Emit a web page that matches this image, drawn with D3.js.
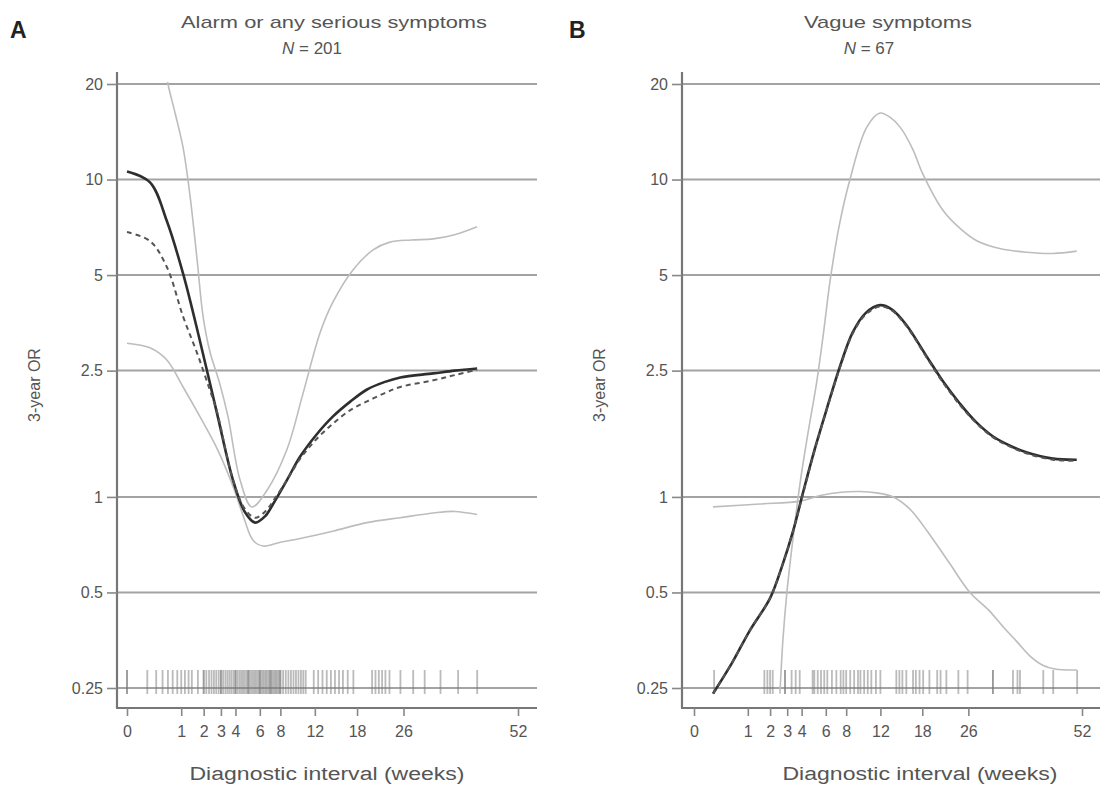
<!DOCTYPE html>
<html>
<head>
<meta charset="utf-8">
<script src="https://cdn.jsdelivr.net/npm/d3@7"></script>
<style>
  body { margin: 0; background: #fff; }
  svg { display: block; font-family: "Liberation Sans", Arial, sans-serif; }
</style>
</head>
<body>
<div id="chart"></div>
<script>
// x ticks (weeks, square-root axis) and y ticks (odds ratio, log axis)
const xTicks = [0, 1, 2, 3, 4, 6, 8, 12, 18, 26, 52];
const yTicks = [0.25, 0.5, 1, 2.5, 5, 10, 20];
const yTickLabels = ["0.25", "0.5", "1", "2.5", "5", "10", "20"];

// Panel A: alarm or any serious symptoms
const aWeeks    = [0, 0.18, 0.54, 1.07, 1.81, 2.76, 3.82, 4.7, 5.58, 6.5, 7.26, 8.7, 10.2, 12.2, 14.4, 17, 19.6, 22.5, 25.4, 31.9, 36.5, 41.7];
const aEstimate = [10.6, 9.8, 7.4, 5.05, 3.1, 1.83, 1.13, 0.9, 0.83, 0.87, 0.95, 1.13, 1.34, 1.57, 1.79, 2.0, 2.18, 2.3, 2.38, 2.45, 2.5, 2.54];
const aAdjWeeks = [0, 0.18, 0.54, 1.07, 1.67, 2.3, 2.76, 3.82, 4.7, 5.58, 6.5, 7.26, 8.7, 10.2, 12.2, 14.4, 17, 19.6, 22.5, 25.4, 31.9, 36.5, 41.7];
const aAdjusted = [6.83, 6.4, 5.3, 3.7, 2.84, 2.2, 1.85, 1.13, 0.92, 0.86, 0.9, 0.97, 1.13, 1.32, 1.52, 1.7, 1.88, 2.0, 2.12, 2.22, 2.33, 2.42, 2.52];
const aUpWeeks  = [0.45, 0.57, 0.8, 1.07, 1.35, 1.67, 1.97, 2.35, 2.9, 3.47, 4.35, 5.3, 6.67, 8.7, 10.5, 12.7, 14.4, 17.4, 20.6, 23.5, 27.5, 31.9, 36.5, 41.7];
const aUpper    = [24, 20, 16, 12.6, 8.9, 5.6, 3.7, 2.85, 2.3, 1.79, 1.13, 0.93, 1.05, 1.41, 2.1, 3.3, 4.1, 5.2, 6.0, 6.35, 6.45, 6.5, 6.7, 7.1];
const aLoWeeks  = [0, 0.18, 0.54, 1.07, 1.81, 2.76, 3.82, 4.6, 5.4, 6.3, 8, 10.2, 14.4, 19.6, 25.4, 31.9, 36.5, 41.7];
const aLower    = [3.05, 2.95, 2.7, 2.22, 1.79, 1.42, 1.08, 0.87, 0.73, 0.70, 0.72, 0.74, 0.78, 0.83, 0.86, 0.89, 0.9, 0.88];
const aRug = [0, 0, 0.14, 0.29, 0.43, 0.57, 0.71, 0.86, 1, 1.14, 1.29, 1.43, 1.71, 2, 2, 2.14, 2.29, 2.43, 2.57, 2.71,
  2.86, 3, 3, 3.14, 3.29, 3.43, 3.57, 3.71, 3.86, 4, 4, 4.14, 4.29, 4.43, 4.57, 4.71, 4.86, 5, 5, 5.14, 5.29,
  5.43, 5.57, 5.71, 5.86, 6, 6, 6.14, 6.29, 6.43, 6.57, 6.71, 6.86, 7, 7, 7.14, 7.29, 7.43, 7.57, 7.71, 7.86,
  8, 8, 8.29, 8.57, 8.86, 9.14, 9.43, 9.71, 10, 10.29, 10.57, 10.86, 11.86, 12.43, 13, 13.57, 14.14, 14.71,
  15.29, 15.86, 16.57, 17.43, 20.43, 21, 21.57, 22.14, 22.71, 23.43, 25.43, 27.86, 30.14, 33.43, 37.29, 41.71];

// Panel B: vague symptoms
const bWeeks    = [0.125, 0.5, 1.08, 2.0, 2.7, 3.39, 4.1, 5.0, 6.1, 7.4, 8.7, 10.2, 11.95, 13.5, 15.5, 18.8, 21.5, 24.4, 27.5, 30.9, 34.5, 38.3, 44.5, 50.6];
const bEstimate = [0.24, 0.3, 0.38, 0.48, 0.61, 0.78, 1.03, 1.4, 1.9, 2.6, 3.3, 3.8, 4.02, 3.9, 3.5, 2.75, 2.3, 1.97, 1.72, 1.55, 1.45, 1.38, 1.32, 1.31];
const bAdjusted = [0.24, 0.3, 0.38, 0.48, 0.61, 0.78, 1.02, 1.39, 1.89, 2.58, 3.27, 3.76, 3.98, 3.87, 3.47, 2.73, 2.28, 1.95, 1.71, 1.54, 1.44, 1.37, 1.31, 1.3];
const bUpWeeks  = [2.55, 2.74, 2.98, 3.4, 3.88, 4.5, 5.2, 5.8, 6.4, 7.3, 8.4, 10.3, 11.95, 13.3, 14.7, 16.5, 18.1, 21.4, 24.5, 27.7, 32.5, 38.3, 44.5, 50.6];
const bUpper    = [0.24, 0.36, 0.5, 0.75, 1.1, 1.6, 2.3, 3.3, 4.8, 7.2, 10, 14.6, 16.2, 15.7, 14.6, 12.5, 10.4, 8.0, 7.0, 6.4, 6.05, 5.9, 5.85, 5.95];
const bLoWeeks  = [0.125, 1.5, 3.88, 5.5, 7.5, 9.5, 11.5, 13.7, 16, 18.8, 22.5, 26.3, 30, 33, 36, 39, 42, 45, 50.6];
const bLower    = [0.93, 0.95, 0.97, 1.01, 1.035, 1.04, 1.03, 1.0, 0.92, 0.78, 0.62, 0.5, 0.44, 0.39, 0.35, 0.315, 0.295, 0.287, 0.285];
const bRug = [0.14, 1.71, 1.86, 2, 2.14, 2.86, 2.86, 3.29, 3.57, 3.86, 4.86, 5, 5.29, 5.57, 5.86, 6.14, 6.57, 7, 7.43,
  7.71, 8, 8.43, 8.86, 9.29, 9.57, 10, 10.43, 10.86, 11.43, 12, 14.14, 14.57, 15, 15.57, 16.57, 17, 17.57, 18.14,
  19.14, 20.43, 21, 22, 24.14, 25.86, 30.86, 30.86, 35.14, 36.14, 36.71, 42.14, 44.57, 50.71];

const zip = (w, v) => w.map((d, i) => ({ w: d, or: v[i] }));

const panels = [
  {
    letter: "A", title: "Alarm or any serious symptoms", n: "201",
    axisX: 117, x0: 127, x1: 518, right: 537, letterX: 10, titleX: 334, titleLen: 306, nX: 312, axisTitleX: 327,
    est: zip(aWeeks, aEstimate), adj: zip(aAdjWeeks, aAdjusted),
    up: zip(aUpWeeks, aUpper), lo: zip(aLoWeeks, aLower), rug: aRug
  },
  {
    letter: "B", title: "Vague symptoms", n: "67",
    axisX: 682, x0: 694, x1: 1082, right: 1100, letterX: 569, titleX: 888, titleLen: 168, nX: 869, axisTitleX: 920,
    est: zip(bWeeks, bEstimate), adj: zip(bWeeks, bAdjusted),
    up: zip(bUpWeeks, bUpper), lo: zip(bLoWeeks, bLower), rug: bRug
  }
];

const width = 1100, height = 787;
const plotTop = 72, plotBottom = 708;

const svg = d3.select("#chart").append("svg")
  .attr("width", width)
  .attr("height", height);

const y = d3.scaleLog().domain([0.25, 20]).range([688, 84]);

panels.forEach((p, pi) => {
  const x = d3.scaleSqrt().domain([0, 52]).range([p.x0, p.x1]);
  const g = svg.append("g");

  // clip for curves
  const clipId = "clip" + pi;
  svg.append("clipPath").attr("id", clipId)
    .append("rect")
    .attr("x", p.axisX).attr("y", plotTop + 10)
    .attr("width", p.right - p.axisX).attr("height", plotBottom - plotTop - 12);

  // gridlines
  g.selectAll(".grid").data(yTicks).join("line")
    .attr("x1", p.axisX).attr("x2", p.right)
    .attr("y1", d => y(d)).attr("y2", d => y(d))
    .attr("stroke", "#a3a3a3").attr("stroke-width", 2);

  // rug
  g.selectAll(".rug").data(p.rug).join("line")
    .attr("x1", d => x(d)).attr("x2", d => x(d))
    .attr("y1", y(0.25) - 18).attr("y2", y(0.25) + 6)
    .attr("stroke", "#777").attr("stroke-width", 1.8)
    .attr("stroke-opacity", 0.5);

  // curves
  const line = d3.line()
    .x(d => x(d.w))
    .y(d => y(d.or))
    .curve(d3.curveCatmullRom.alpha(0.5));

  const curves = g.append("g").attr("clip-path", `url(#${clipId})`);
  curves.append("path").datum(p.up).attr("d", line)
    .attr("fill", "none").attr("stroke", "#bdbdbd").attr("stroke-width", 1.6);
  curves.append("path").datum(p.lo).attr("d", line)
    .attr("fill", "none").attr("stroke", "#bdbdbd").attr("stroke-width", 1.6);
  curves.append("path").datum(p.est).attr("d", line)
    .attr("fill", "none").attr("stroke", "#2e2e2e").attr("stroke-width", 2.6);
  curves.append("path").datum(p.adj).attr("d", line)
    .attr("fill", "none").attr("stroke", "#555").attr("stroke-width", 2)
    .attr("stroke-dasharray", "5,4");

  // axes frame
  g.append("line")
    .attr("x1", p.axisX).attr("x2", p.axisX).attr("y1", plotTop).attr("y2", plotBottom)
    .attr("stroke", "#777").attr("stroke-width", 2.2);
  g.append("line")
    .attr("x1", p.axisX - 1).attr("x2", p.right).attr("y1", plotBottom).attr("y2", plotBottom)
    .attr("stroke", "#777").attr("stroke-width", 2.2);

  // y axis
  const yAxis = d3.axisLeft(y)
    .tickValues(yTicks)
    .tickFormat((d, i) => yTickLabels[i])
    .tickSize(10)
    .tickPadding(4);
  const ya = g.append("g").attr("transform", `translate(${p.axisX},0)`).call(yAxis);
  ya.select(".domain").remove();
  ya.selectAll(".tick line").attr("stroke", "#888").attr("stroke-width", 1.6);
  ya.selectAll(".tick text").attr("fill", "#555").style("font-size", "16px");

  // x axis
  const xAxis = d3.axisBottom(x)
    .tickValues(xTicks)
    .tickFormat(d3.format("d"))
    .tickSize(8)
    .tickPadding(10);
  const xa = g.append("g").attr("transform", `translate(0,${plotBottom})`).call(xAxis);
  xa.select(".domain").remove();
  xa.selectAll(".tick line").attr("stroke", "#888").attr("stroke-width", 1.6);
  xa.selectAll(".tick text").attr("fill", "#555").style("font-size", "16px");

  // axis titles
  g.append("text")
    .attr("x", p.axisTitleX).attr("y", 780)
    .attr("text-anchor", "middle")
    .attr("fill", "#555").style("font-size", "18px")
    .attr("textLength", 275).attr("lengthAdjust", "spacingAndGlyphs")
    .text("Diagnostic interval (weeks)");

  g.append("text")
    .attr("transform", `translate(${p.axisX - 77},385) rotate(-90)`)
    .attr("text-anchor", "middle")
    .attr("fill", "#555").style("font-size", "16px")
    .text("3-year OR");

  // panel letter and title
  g.append("text")
    .attr("x", p.letterX).attr("y", 38)
    .attr("fill", "#222").style("font-size", "23px").style("font-weight", "bold")
    .text(p.letter);

  g.append("text")
    .attr("x", p.titleX).attr("y", 28)
    .attr("text-anchor", "middle")
    .attr("fill", "#555").style("font-size", "17px")
    .attr("textLength", p.titleLen).attr("lengthAdjust", "spacingAndGlyphs")
    .text(p.title);

  const nt = g.append("text")
    .attr("x", p.nX).attr("y", 54)
    .attr("text-anchor", "middle")
    .attr("fill", "#555").style("font-size", "17px");
  nt.append("tspan").style("font-style", "italic").text("N");
  nt.append("tspan").text(" = " + p.n);
});
</script>
</body>
</html>
